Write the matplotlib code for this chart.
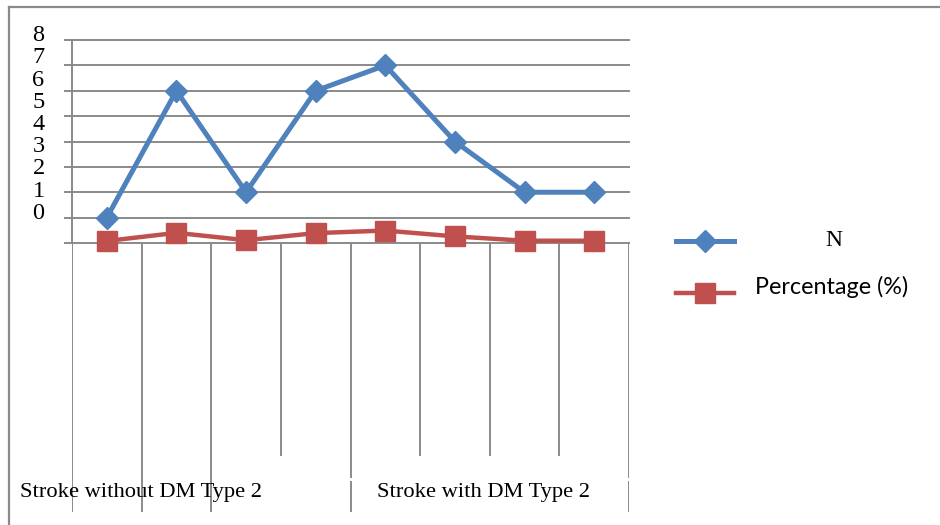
import numpy as np
import matplotlib
matplotlib.use("Agg")
import matplotlib.pyplot as plt
from matplotlib.lines import Line2D

# ---- data ----
categories = ["1", "2", "3", "4", "5", "6", "7", "8"]
n_values = [1, 6, 2, 6, 7, 4, 2, 2]
pct_values = [0.08, 0.40, 0.11, 0.39, 0.49, 0.26, 0.09, 0.09]
ytick_labels = ["0", "1", "2", "3", "4", "5", "6", "7", "8"]
group_labels = ["Stroke without DM Type 2", "Stroke with DM Type 2"]
series_names = ["N", "Percentage (%)"]

W, H = 940, 525
BLUE = "#4F81BD"
RED = "#C0504D"
GRID = "#8a8a8a"
SERIF = "Liberation Serif"

def fx(px):
    return px / W

def fy(py):
    return 1 - py / H

fig = plt.figure(figsize=(W / 100, H / 100), dpi=100)

# main plot area
L, R, T, B = 72, 629, 40, 243
ax = fig.add_axes([fx(L), fy(B), (R - L) / W, (B - T) / H])
x = np.arange(len(categories)) + 0.5
ax.set_xlim(0, len(categories))
ax.set_ylim(0, 8)
ax.set_yticks(range(9))
ax.set_xticks([])
ax.grid(axis="y", color=GRID, lw=1.4)
for gl in ax.get_ygridlines():
    gl.set_clip_on(False)
ax.tick_params(axis="y", length=6, width=1.4, color=GRID, labelleft=False)
for s in ["top", "right", "bottom"]:
    ax.spines[s].set_visible(False)
ax.spines["left"].set_color(GRID)
ax.spines["left"].set_linewidth(1.4)
ax.set_axisbelow(True)

ax.plot(x, pct_values, color=RED, lw=3.2, marker="s", ms=15, mec=RED,
        clip_on=False, zorder=3)
ax.plot(x, n_values, color=BLUE, lw=3.6, marker="D", ms=11, mec=BLUE,
        clip_on=False, zorder=4)

# misplaced y tick labels as in the reference
for i, lab in enumerate(ytick_labels):
    fig.text(fx(38.5), fy(213.3 - 22.2 * i), lab, ha="center", va="center",
             fontsize=17.5, family=SERIF)

# lower category area
LB = 512
ax2 = fig.add_axes([fx(L), fy(LB), (R - L) / W, (LB - B) / H])
ax2.set_xlim(0, len(categories))
ax2.set_ylim(0, 1)
ax2.axis("off")
def frac(py):
    return (LB - py) / (LB - B)
full_lines = [0, 1, 2]
short_lines = [3, 5, 6, 7]
group_lines = [4, 8]
ax2.vlines(full_lines, 0, 1, color=GRID, lw=1.4)
ax2.vlines(short_lines, frac(456), 1, color=GRID, lw=1.4)
ax2.vlines(group_lines, frac(478), 1, color=GRID, lw=1.4)
ax2.vlines(group_lines, 0, frac(481), color=GRID, lw=1.4)

fig.text(fx(20), fy(493), group_labels[0], ha="left", va="center",
         fontsize=16.2, family=SERIF)
fig.text(fx(483), fy(493), group_labels[1], ha="center", va="center",
         fontsize=16.2, family=SERIF)

# legend (manual)
fig.add_artist(Line2D([fx(676), fx(705), fx(734)], [fy(241), fy(241), fy(241)],
                      transform=fig.transFigure, color=BLUE, lw=3.6,
                      marker="D", ms=11, mec=BLUE, markevery=[1]))
fig.add_artist(Line2D([fx(676), fx(705), fx(734)], [fy(293), fy(293), fy(293)],
                      transform=fig.transFigure, color=RED, lw=3.2,
                      marker="s", ms=15, mec=RED, markevery=[1]))
fig.text(fx(834), fy(241), series_names[0], ha="center", va="center",
         fontsize=17, family=SERIF)
fig.text(fx(755), fy(287), series_names[1], ha="left", va="center",
         fontsize=16.8, family="Lato")

# outer border (top and left)
fig.add_artist(Line2D([fx(9), fx(940)], [fy(6.5), fy(6.5)],
                      transform=fig.transFigure, color="#8a8a8a", lw=1.6))
fig.add_artist(Line2D([fx(9), fx(9)], [fy(6.5), fy(525)],
                      transform=fig.transFigure, color="#8a8a8a", lw=1.6))

fig.savefig("out.png", dpi=100)
